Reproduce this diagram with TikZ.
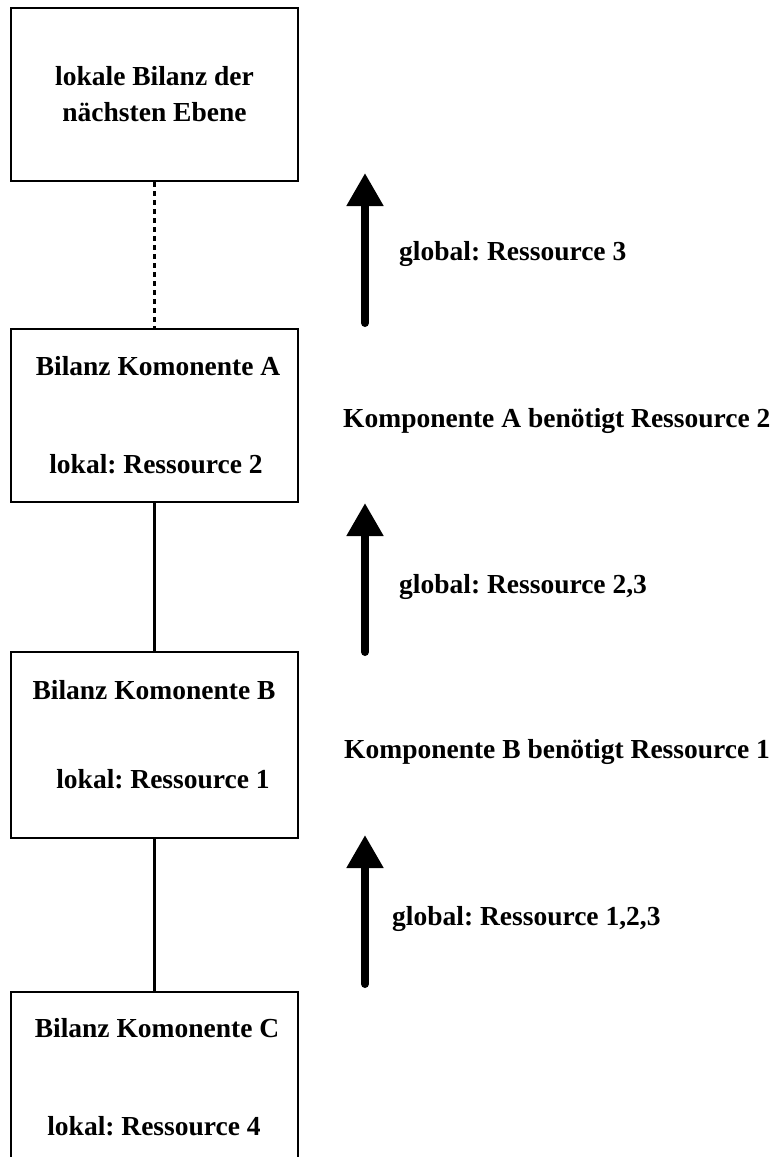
\documentclass[tikz,border=0pt]{standalone}
\usepackage{fontspec}
\setmainfont{Liberation Serif}
\frenchspacing
\usetikzlibrary{arrows.meta,positioning}
\tikzset{
  base/.style={font=\fontsize{27.5}{36}\selectfont\bfseries, align=center, inner sep=0pt},
  box/.style={rectangle, draw, line width=2pt, minimum width=287pt, minimum height=173pt, inner sep=0pt},
  link/.style={line width=3pt},
  linkd/.style={link, dash pattern=on 5pt off 4pt},
  flow/.style={-{Triangle[length=33pt,width=35pt]}, line width=8pt, line cap=round},
  lbl/.style={base, anchor=base west},
}
\begin{document}
\begin{tikzpicture}[x=1pt,y=-1pt]
  \useasboundingbox (0,0) rectangle (775,1157);
  % next level
  \node[box,base] (k0) at (154.5,94.5) {lokale Bilanz der\\n\"achsten Ebene};
  % components
  \foreach \n/\y/\h/\ya/\xa/\r/\yb/\xb in {A/415.5/173/375/158/2/473/156,B/745/186/699/154/1/788/163,C/1078.5/173/1037/157/4/1135/154}{
    \node[box,minimum height=\h pt] (k\n) at (154.5,\y) {};
    \node[base,anchor=base] (k\n t) at (\xa,\ya) {Bilanz Komonente \n};
    \node[base,anchor=base] (k\n l) at (\xb,\yb) {lokal: Ressource \r};
  }
  \draw[linkd] (k0) -- (kA);
  \draw[link] (kA) -- (kB);
  \draw[link] (kB) -- (kC);
  % upward flow
  \foreach \i/\yt/\yh in {1/323/173,2/652/503,3/984/835}{
    \coordinate (u\i) at (365,\yt);
    \coordinate (o\i) at (365,\yh);
    \draw[flow] (u\i) -- (o\i);
  }
  \node[lbl] (g1) at (399,260) {global: Ressource 3};
  \node[lbl] (nA) at (343,427) {Komponente A ben\"otigt Ressource 2};
  \node[lbl] (g2) at (399,593) {global: Ressource 2,3};
  \node[lbl] (nB) at (344,758) {Komponente B ben\"otigt Ressource 1};
  \node[lbl] (g3) at (392,925) {global: Ressource 1,2,3};
\end{tikzpicture}
\end{document}
